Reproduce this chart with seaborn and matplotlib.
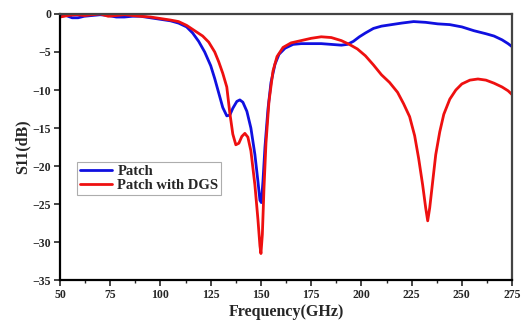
import matplotlib
matplotlib.use("Agg")
import matplotlib.pyplot as plt
from matplotlib.ticker import MultipleLocator
import pandas as pd
import seaborn as sns

# Patch (without DGS)
patch_freq = [50, 53, 56, 59, 62, 66, 70, 74, 78, 82, 86, 90, 95, 100, 105, 109, 113, 116, 119,
              122, 125, 127, 129, 131, 133, 134.5, 136, 138, 139.5, 141, 143, 145, 147, 148.5,
              149.5, 150.2, 151, 152, 153.5, 155, 157, 159, 162, 166, 170, 175, 180, 185, 190,
              193, 196, 199, 202, 206, 210, 215, 220, 226, 232, 238, 244, 250, 256, 262, 266,
              270, 273, 275]
patch_s11 = [-0.3, -0.2, -0.5, -0.5, -0.3, -0.2, -0.1, -0.2, -0.4, -0.4, -0.3, -0.3, -0.5, -0.7,
             -0.9, -1.2, -1.7, -2.5, -3.6, -5.0, -6.8, -8.5, -10.4, -12.3, -13.4, -13.3, -12.4,
             -11.5, -11.3, -11.6, -12.8, -15.0, -18.5, -22.0, -24.5, -24.8, -22.0, -17.5, -12.5,
             -9.0, -6.6, -5.3, -4.5, -4.0, -3.9, -3.9, -3.9, -4.0, -4.1, -4.0, -3.6, -3.0, -2.5,
             -1.9, -1.6, -1.4, -1.2, -1.0, -1.1, -1.3, -1.4, -1.7, -2.2, -2.6, -2.9, -3.4, -3.9,
             -4.3]

# Patch with DGS
dgs_freq = [50, 54, 58, 62, 66, 70, 74, 78, 82, 86, 90, 95, 100, 105, 109, 113, 117, 121, 124,
            127, 129, 131, 133, 134.5, 136, 137.5, 139, 140.5, 142, 143.5, 145, 147, 148.5,
            149.5, 150, 150.7, 151.5, 152.5, 154, 156, 158, 161, 165, 170, 175, 180, 185, 190,
            194, 198, 202, 206, 210, 214, 218, 221, 224, 226.5, 228.5, 230.5, 232, 233, 234,
            235.5, 237, 239, 241, 244, 247, 250, 254, 258, 262, 266, 270, 273, 275]
dgs_s11 = [-0.4, -0.2, -0.1, -0.2, -0.1, 0.0, -0.3, -0.2, -0.1, -0.2, -0.3, -0.4, -0.6, -0.8,
           -1.0, -1.5, -2.2, -2.9, -3.7, -5.0, -6.3, -7.8, -9.6, -13.0, -15.8, -17.2, -17.0,
           -16.1, -15.7, -16.2, -18.0, -22.5, -27.0, -30.5, -31.5, -29.0, -23.0, -17.0, -11.5,
           -7.5, -5.6, -4.4, -3.8, -3.5, -3.2, -3.0, -3.1, -3.5, -4.0, -4.6, -5.5, -6.7, -8.0,
           -9.0, -10.3, -11.8, -13.5, -16.0, -19.0, -22.5, -25.5, -27.2, -25.5, -22.0, -18.5,
           -15.5, -13.2, -11.2, -10.0, -9.2, -8.7, -8.55, -8.7, -9.1, -9.6, -10.1, -10.6]

x_ticks = [50, 75, 100, 125, 150, 175, 200, 225, 250, 275]
y_ticks = [0, -5, -10, -15, -20, -25, -30, -35]

df = pd.concat([
    pd.DataFrame({"freq": patch_freq, "s11": patch_s11, "series": "Patch"}),
    pd.DataFrame({"freq": dgs_freq, "s11": dgs_s11, "series": "Patch with DGS"}),
])

sns.set_style("white")
plt.rcParams["font.family"] = ["Liberation Serif", "DejaVu Serif"]
plt.rcParams["font.weight"] = "bold"

fig = plt.figure(figsize=(5.22, 3.25), dpi=100)
ax = fig.add_axes([0.115, 0.138, 0.866, 0.819])

sns.lineplot(data=df, x="freq", y="s11", hue="series", sort=False,
             palette={"Patch": "#1010e0", "Patch with DGS": "#ee1010"},
             linewidth=2.0, ax=ax)

ax.set_xlim(50, 275)
ax.set_ylim(-35, 0)
ax.set_xticks(x_ticks)
ax.set_yticks(y_ticks)
ax.xaxis.set_minor_locator(MultipleLocator(12.5))
ax.tick_params(axis="both", which="major", direction="out", length=4, width=1.2,
               labelsize=8.5, bottom=True, left=True, pad=2.5)
ax.tick_params(axis="x", which="minor", direction="out", length=2.5, width=1, bottom=True)
for lbl in ax.get_xticklabels() + ax.get_yticklabels():
    lbl.set_fontweight("bold")

ax.set_xlabel("Frequency(GHz)", fontsize=11.5, fontweight="bold", labelpad=2)
ax.set_ylabel("S11(dB)", fontsize=11.5, fontweight="bold", labelpad=1)

for side in ["left", "bottom"]:
    ax.spines[side].set_color("black")
    ax.spines[side].set_linewidth(1.6)
for side in ["top", "right"]:
    ax.spines[side].set_color("#444444")
    ax.spines[side].set_linewidth(1.6)

leg = ax.legend(loc="upper left", bbox_to_anchor=(0.038, 0.444), borderaxespad=0,
                frameon=True, fancybox=False, fontsize=10.5, handlelength=2.2,
                handletextpad=0.35, borderpad=0.2, labelspacing=0.05)
leg.get_frame().set_edgecolor("#999999")
leg.get_frame().set_linewidth(0.8)
for t in leg.get_texts():
    t.set_fontweight("bold")

fig.savefig("out.png", dpi=100)
